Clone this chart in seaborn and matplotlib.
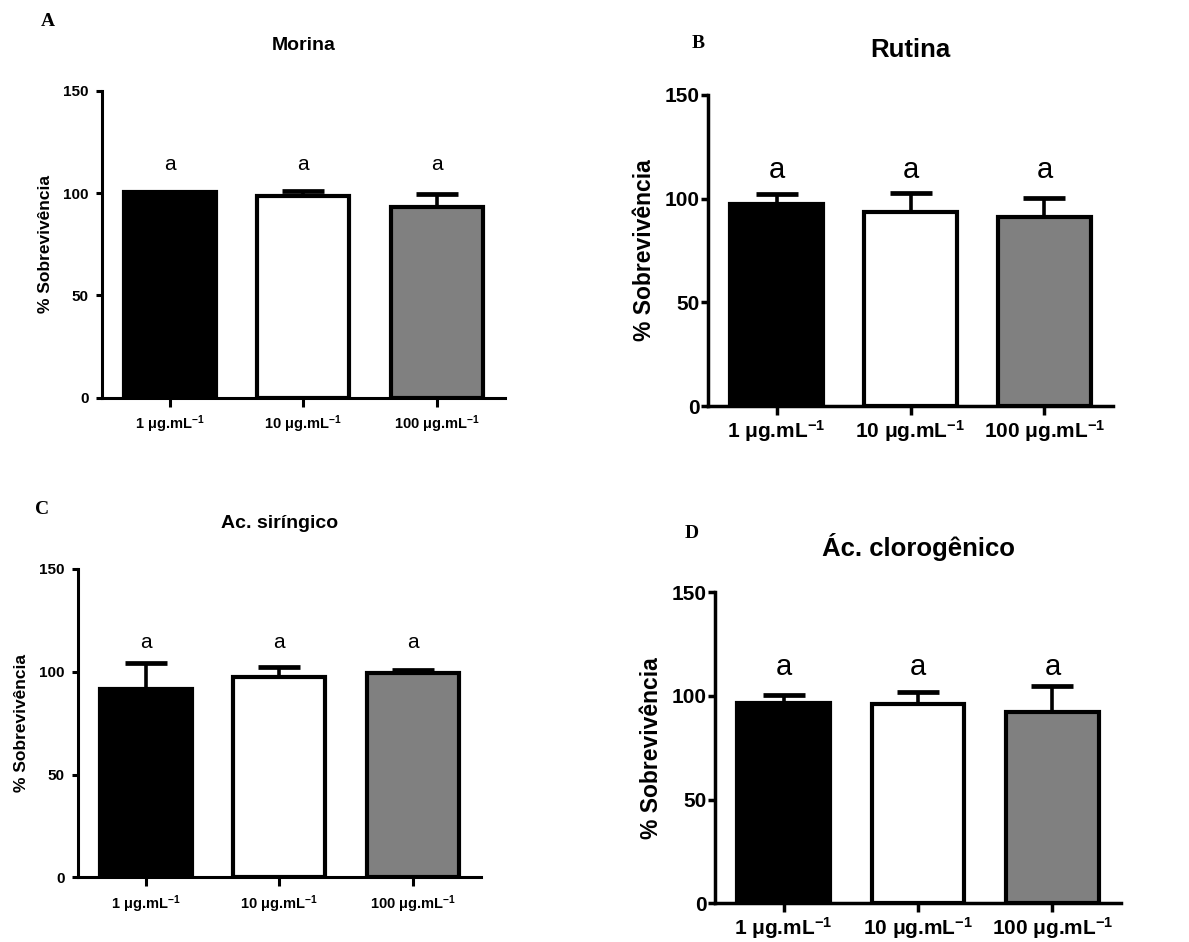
import matplotlib
matplotlib.use('Agg')
import matplotlib.pyplot as plt
import seaborn as sns
import pandas as pd
import numpy as np

# Data (mean % survival and upper error)
categories = ['1 μg.mL$^{-1}$', '10 μg.mL$^{-1}$', '100 μg.mL$^{-1}$']
bar_colors = ['#000000', '#ffffff', '#808080']
letters = ['a', 'a', 'a']

morina_mean = [100.6, 98.5, 93.3]
morina_err = [0.0, 2.6, 6.2]

rutina_mean = [97.3, 93.7, 91.3]
rutina_err = [4.8, 8.9, 9.0]

siringico_mean = [91.6, 97.3, 99.2]
siringico_err = [12.5, 4.8, 1.5]

clorogenico_mean = [96.5, 96.1, 92.1]
clorogenico_err = [3.8, 6.0, 12.7]

W, H = 1189, 942

sns.set_style('ticks')
plt.rcParams['font.family'] = ['Liberation Sans', 'DejaVu Sans']
plt.rcParams['mathtext.fontset'] = 'custom'
plt.rcParams['mathtext.rm'] = 'Liberation Sans:bold'
plt.rcParams['mathtext.it'] = 'Liberation Sans:bold'
plt.rcParams['mathtext.bf'] = 'Liberation Sans:bold'
for k in ['text.color', 'axes.labelcolor', 'xtick.color', 'ytick.color', 'axes.edgecolor']:
    plt.rcParams[k] = 'black'

fig = plt.figure(figsize=(W / 100, H / 100), dpi=100)


def px_rect(left, right, top, bottom):
    return [left / W, 1 - bottom / H, (right - left) / W, (bottom - top) / H]


def draw_panel(rect, means, errs, title, letter, letter_xy, big):
    ax = fig.add_axes(rect)
    df = pd.DataFrame({'conc': categories, 'mean': means})
    sns.barplot(data=df, x='conc', y='mean', hue='conc', palette=bar_colors,
                order=categories, hue_order=categories, width=0.69,
                edgecolor='black', linewidth=3.0, errorbar=None, legend=False, ax=ax)
    ax.errorbar(range(len(means)), means, yerr=[np.zeros(len(errs)), errs],
                fmt='none', ecolor='black', elinewidth=2.6, capsize=15, capthick=3.4,
                zorder=1)
    for b in ax.patches:
        b.set_zorder(2)

    ax.set_ylim(0, 150)
    ax.set_xlim(-0.51, 2.51)
    ax.set_yticks([0, 50, 100, 150])
    ax.set_xlabel('')
    ax.set_ylabel('')
    sns.despine(ax=ax)
    spine_w = 2.5 if big else 2.2
    for s in ['left', 'bottom']:
        ax.spines[s].set_linewidth(spine_w)

    ax.tick_params(axis='x', length=6.5, width=spine_w, pad=2 if big else 5,
                   labelsize=15 if big else 10.5)
    ax.tick_params(axis='y', length=5 if big else 4.3, width=spine_w,
                   pad=1 if big else 5, labelsize=15 if big else 11)
    for t in ax.get_xticklabels() + ax.get_yticklabels():
        t.set_fontweight('bold')

    # letters above bars
    for i, l in enumerate(letters):
        ax.text(i, 114, l, ha='center', va='center',
                fontsize=21 if big else 15)

    # y label
    ax.text(-0.157 if big else -0.14, 0.5, '% Sobrevivência', rotation=90,
            ha='center', va='center', transform=ax.transAxes,
            fontsize=16.5 if big else 12.5, fontweight='bold')

    # title
    ax_h = rect[3] * H
    ax.text(0.5, 1 + 45 / ax_h, title, ha='center', va='center',
            transform=ax.transAxes, fontsize=18.5 if big else 14, fontweight='bold')

    fig.text(letter_xy[0] / W, 1 - letter_xy[1] / H, letter, ha='center', va='center',
             fontsize=14, fontweight='bold', family='Liberation Serif')
    return ax


draw_panel(px_rect(101.7, 505, 90.7, 397.7), morina_mean, morina_err,
           'Morina', 'A', (48, 22), False)
draw_panel(px_rect(708.3, 1112.7, 95, 406), rutina_mean, rutina_err,
           'Rutina', 'B', (698, 43), True)
draw_panel(px_rect(77.7, 481, 569, 877.3), siringico_mean, siringico_err,
           'Ac. siríngico', 'C', (42, 510), False)
draw_panel(px_rect(715, 1121, 592.3, 903.3), clorogenico_mean, clorogenico_err,
           'Ác. clorogênico', 'D', (692, 534), True)

fig.savefig('out.png', dpi=100)
